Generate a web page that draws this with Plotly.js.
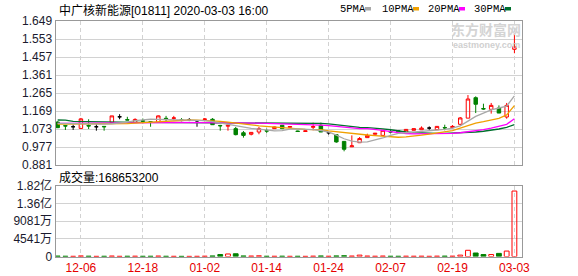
<!DOCTYPE html>
<html><head><meta charset="utf-8">
<script src="https://cdn.plot.ly/plotly-3.0.1.min.js"></script>
<style>html,body{margin:0;padding:0;background:#fff}#c{width:578px;height:276px}</style>
</head><body><div id="c"></div>
<script>
const dates = ['12-03','12-04','12-05','12-06','12-09','12-10','12-11','12-12','12-13','12-16','12-17','12-18','12-19','12-20','12-23','12-24','12-27','12-30','12-31','01-02','01-03','01-06','01-07','01-08','01-09','01-10','01-13','01-14','01-15','01-16','01-17','01-20','01-21','01-22','01-23','01-24','01-29','01-30','01-31','02-03','02-04','02-05','02-06','02-07','02-10','02-11','02-12','02-13','02-14','02-17','02-18','02-19','02-20','02-21','02-24','02-25','02-26','02-27','03-02','03-03'];
const openP  = [1.110,1.091,1.085,1.076,1.092,1.085,1.087,1.108,1.138,1.123,1.108,1.117,1.112,1.108,1.130,1.130,1.122,1.122,1.117,1.124,1.125,1.092,1.088,1.075,1.053,1.045,1.057,1.064,1.075,1.093,1.082,1.062,1.060,1.082,1.093,1.053,1.043,1.007,0.978,1.000,1.027,1.045,1.039,1.059,1.064,1.056,1.066,1.069,1.078,1.069,1.081,1.080,1.098,1.131,1.240,1.182,1.178,1.185,1.137,1.498];
const highP  = [1.114,1.092,1.096,1.132,1.125,1.099,1.088,1.143,1.152,1.138,1.130,1.129,1.115,1.145,1.143,1.143,1.131,1.131,1.119,1.131,1.131,1.095,1.096,1.084,1.062,1.057,1.084,1.075,1.086,1.093,1.088,1.064,1.064,1.107,1.107,1.054,1.045,1.009,1.039,1.030,1.048,1.050,1.068,1.068,1.066,1.073,1.076,1.087,1.087,1.088,1.096,1.094,1.137,1.254,1.247,1.208,1.212,1.199,1.212,1.583];
const lowP   = [1.078,1.068,1.068,1.074,1.073,1.064,1.064,1.108,1.125,1.120,1.107,1.103,1.085,1.106,1.113,1.120,1.114,1.115,1.085,1.117,1.095,1.064,1.064,1.039,1.027,1.039,1.045,1.052,1.073,1.075,1.080,1.058,1.058,1.066,1.057,1.043,1.000,0.954,0.977,0.998,1.026,1.044,1.038,1.050,1.052,1.055,1.065,1.068,1.069,1.068,1.066,1.079,1.093,1.131,1.158,1.176,1.155,1.158,1.128,1.477];
const closeP = [1.080,1.089,1.085,1.127,1.089,1.085,1.085,1.143,1.138,1.121,1.124,1.115,1.108,1.143,1.128,1.132,1.118,1.122,1.117,1.126,1.096,1.090,1.093,1.043,1.039,1.055,1.075,1.062,1.084,1.075,1.086,1.060,1.063,1.086,1.057,1.053,1.004,0.965,0.983,1.022,1.039,1.050,1.066,1.057,1.053,1.071,1.075,1.078,1.078,1.087,1.079,1.087,1.132,1.233,1.205,1.180,1.199,1.158,1.199,1.512];
const volume = [1.2e6,0.8e6,0.6e6,1.5e6,0.9e6,0.5e6,0.7e6,1.3e6,0.6e6,0.8e6,0.9e6,0.7e6,0.8e6,1.2e6,0.7e6,0.6e6,0.5e6,0.4e6,0.6e6,0.9e6,1.5e6,5.0e6,6.5e6,7.0e6,1.5e6,1.2e6,1.8e6,0.8e6,0.7e6,0.9e6,0.6e6,0.7e6,0.5e6,1.0e6,1.5e6,0.8e6,1.6e6,2.0e6,1.2e6,3.5e6,1.2e6,0.8e6,1.2e6,0.8e6,0.7e6,0.9e6,0.8e6,0.9e6,0.6e6,1.0e6,1.1e6,1.0e6,3.5e6,16.0e6,9.0e6,5.0e6,5.0e6,8.0e6,14.0e6,168653200];
const ma5  = [1.103,1.102,1.100,1.098,1.097,1.098,1.099,1.101,1.104,1.110,1.118,1.122,1.125,1.124,1.122,1.121,1.121,1.120,1.119,1.118,1.112,1.104,1.098,1.091,1.083,1.076,1.072,1.066,1.063,1.064,1.072,1.074,1.073,1.070,1.065,1.057,1.040,1.021,1.008,1.003,1.004,1.013,1.025,1.039,1.050,1.053,1.056,1.060,1.064,1.068,1.071,1.078,1.090,1.115,1.140,1.158,1.175,1.185,1.195,1.250];
const ma10 = [1.099,1.099,1.098,1.098,1.099,1.099,1.099,1.099,1.100,1.102,1.104,1.106,1.108,1.110,1.114,1.118,1.120,1.121,1.120,1.119,1.117,1.114,1.110,1.104,1.099,1.095,1.090,1.087,1.084,1.080,1.074,1.072,1.071,1.070,1.069,1.063,1.058,1.053,1.049,1.044,1.041,1.038,1.035,1.031,1.029,1.031,1.034,1.040,1.046,1.053,1.058,1.064,1.078,1.092,1.104,1.112,1.120,1.130,1.148,1.198];
const ma20 = [1.103,1.103,1.103,1.103,1.103,1.103,1.104,1.104,1.104,1.105,1.105,1.106,1.106,1.107,1.107,1.108,1.108,1.108,1.108,1.108,1.108,1.108,1.107,1.105,1.104,1.104,1.104,1.103,1.102,1.101,1.100,1.099,1.098,1.096,1.094,1.091,1.086,1.081,1.077,1.075,1.075,1.072,1.066,1.059,1.053,1.049,1.047,1.047,1.047,1.047,1.048,1.050,1.053,1.058,1.064,1.070,1.078,1.086,1.098,1.128];
const ma30 = [1.121,1.120,1.114,1.113,1.112,1.111,1.109,1.108,1.108,1.108,1.108,1.108,1.107,1.107,1.107,1.107,1.107,1.107,1.107,1.107,1.106,1.106,1.106,1.106,1.106,1.105,1.105,1.105,1.105,1.105,1.105,1.104,1.104,1.104,1.103,1.100,1.095,1.090,1.086,1.082,1.080,1.078,1.074,1.069,1.062,1.057,1.054,1.052,1.051,1.050,1.050,1.051,1.052,1.054,1.057,1.061,1.066,1.073,1.082,1.096];
const tickDates = ['12-06','12-18','01-02','01-14','01-24','02-07','02-19','03-03'];
const priceTicks = [0.881,0.977,1.073,1.169,1.265,1.361,1.457,1.553,1.649];
const volTicks = [0,45407500,90815000,136222500,181630000];
const volTickText = ['0','4541万','9081万','1.36亿','1.82亿'];
const maNames = ['5PMA','10PMA','20PMA','30PMA'];
const maColors = ['#a8a8a8','#f0a000','#ff00ff','#00702e'];
const stockTitle = '中广核新能源[01811] 2020-03-03 16:00';

const FONT = '"Liberation Sans", "Noto Sans CJK SC", sans-serif';
const RED = '#ff0000', GREEN = '#008000';

const reg = {x:[],o:[],h:[],l:[],c:[]}, doji = {x:[],o:[],h:[],l:[],c:[]};
dates.forEach((d,i)=>{
  const t = (openP[i]===closeP[i]) ? doji : reg;
  t.x.push(d); t.o.push(openP[i]); t.h.push(highP[i]); t.l.push(lowP[i]); t.c.push(closeP[i]);
});

const traces = [];
[ma30, ma20, ma10, ma5].forEach((m,k)=>{
  const idx = 3-k;
  traces.push({type:'scatter', mode:'lines', x:dates, y:m, xaxis:'x', yaxis:'y',
    line:{color:maColors[idx], width:1.3}, hoverinfo:'skip'});
});
traces.push({type:'candlestick', x:reg.x, open:reg.o, high:reg.h, low:reg.l, close:reg.c,
  xaxis:'x', yaxis:'y', whiskerwidth:0,
  increasing:{line:{color:RED,width:1}, fillcolor:'rgba(255,255,255,0)'},
  decreasing:{line:{color:GREEN,width:1}, fillcolor:GREEN}, hoverinfo:'skip'});
traces.push({type:'candlestick', x:doji.x, open:doji.o, high:doji.h, low:doji.l, close:doji.c,
  xaxis:'x', yaxis:'y', whiskerwidth:0,
  increasing:{line:{color:'#000',width:1}, fillcolor:'#000'},
  decreasing:{line:{color:'#000',width:1}, fillcolor:'#000'}, hoverinfo:'skip'});

const volFill = dates.map((d,i)=> closeP[i] < openP[i] ? GREEN : 'rgba(255,255,255,0)');
const volLine = dates.map((d,i)=> closeP[i] < openP[i] ? GREEN : RED);
traces.push({type:'bar', x:dates, y:volume, xaxis:'x2', yaxis:'y2', width:0.62,
  marker:{color:volFill, line:{color:volLine, width:1}}, hoverinfo:'skip'});

const W=578, H=276;
const xdom = [55.5/W, 522/W];
const gridCol = '#d2d2d2', frameCol = '#999999';
const xCommon = {type:'category', categoryorder:'array', categoryarray:dates, range:[-0.28, 59.98],
  domain:xdom, tickvals:tickDates, ticktext:tickDates, showgrid:true, gridcolor:gridCol, griddash:'4px,3px',
  gridwidth:1, showline:true, mirror:true, linecolor:frameCol, linewidth:1, ticks:'', zeroline:false, fixedrange:true};
const layout = {
  width:W, height:H, margin:{l:0,r:0,t:0,b:0}, paper_bgcolor:'#fff', plot_bgcolor:'#fff',
  showlegend:false, hovermode:false, boxgap:0.36, bargap:0.38,
  font:{family:FONT, size:12, color:'#222'},
  xaxis:Object.assign({}, xCommon, {anchor:'y', showticklabels:false, rangeslider:{visible:false}}),
  xaxis2:Object.assign({}, xCommon, {anchor:'y2', showticklabels:true,
    tickfont:{family:FONT, size:12, color:'#e60000'}, rangeslider:{visible:false}}),
  yaxis:{domain:[(H-165)/H, (H-21)/H], range:[0.881,1.649], tickvals:priceTicks,
    ticktext:priceTicks.map(v=>v.toFixed(3)), showgrid:true, gridcolor:gridCol, showline:true, mirror:true,
    linecolor:frameCol, ticks:'', zeroline:false, tickfont:{family:FONT,size:12,color:'#1a1a2e'}, fixedrange:true},
  yaxis2:{domain:[(H-256.5)/H, (H-186)/H], range:[0,181630000], tickvals:volTicks, ticktext:volTickText,
    showgrid:true, gridcolor:gridCol, showline:true, mirror:true, linecolor:frameCol, ticks:'',
    zeroline:false, tickfont:{family:FONT,size:12,color:'#1a1a2e'}, fixedrange:true},
  shapes:[],
  annotations:[
    {xref:'paper', yref:'paper', x:57/W, y:1-11/H, xanchor:'left', yanchor:'middle', showarrow:false,
      text:stockTitle, font:{family:FONT, size:12, color:'#000'}},
    {xref:'paper', yref:'paper', x:57/W, y:1-177/H, xanchor:'left', yanchor:'middle', showarrow:false,
      text:'成交量:' + volume[volume.length-1], font:{family:FONT, size:12, color:'#000'}},
    {xref:'paper', yref:'paper', x:486/W, y:1-29/H, xanchor:'center', yanchor:'middle', showarrow:false,
      text:'<b>东方财富网</b>', font:{family:'"Noto Sans CJK SC", sans-serif', size:14, color:'#d4d4d4'}},
    {xref:'paper', yref:'paper', x:486/W, y:1-45/H, xanchor:'center', yanchor:'middle', showarrow:false,
      text:'<b>eastmoney.com</b>', font:{family:FONT, size:9, color:'#d0d0d0'}}
  ]
};
const legTextX = [338, 380, 426, 472];
const legBoxX = [365, 413, 459, 505];
maNames.forEach((n,i)=>{
  layout.annotations.push({xref:'paper', yref:'paper', x:legTextX[i]/W, y:1-9/H, xanchor:'left', yanchor:'middle',
    showarrow:false, text:n, font:{family:'"Liberation Mono", monospace', size:10.5, color:'#000'}});
  layout.shapes.push({type:'rect', xref:'paper', yref:'paper', x0:legBoxX[i]/W, x1:(legBoxX[i]+6)/W,
    y0:1-10.5/H, y1:1-7/H, fillcolor:maColors[i], line:{width:0}});
});
Plotly.newPlot('c', traces, layout, {staticPlot:true, displayModeBar:false});
</script></body></html>
